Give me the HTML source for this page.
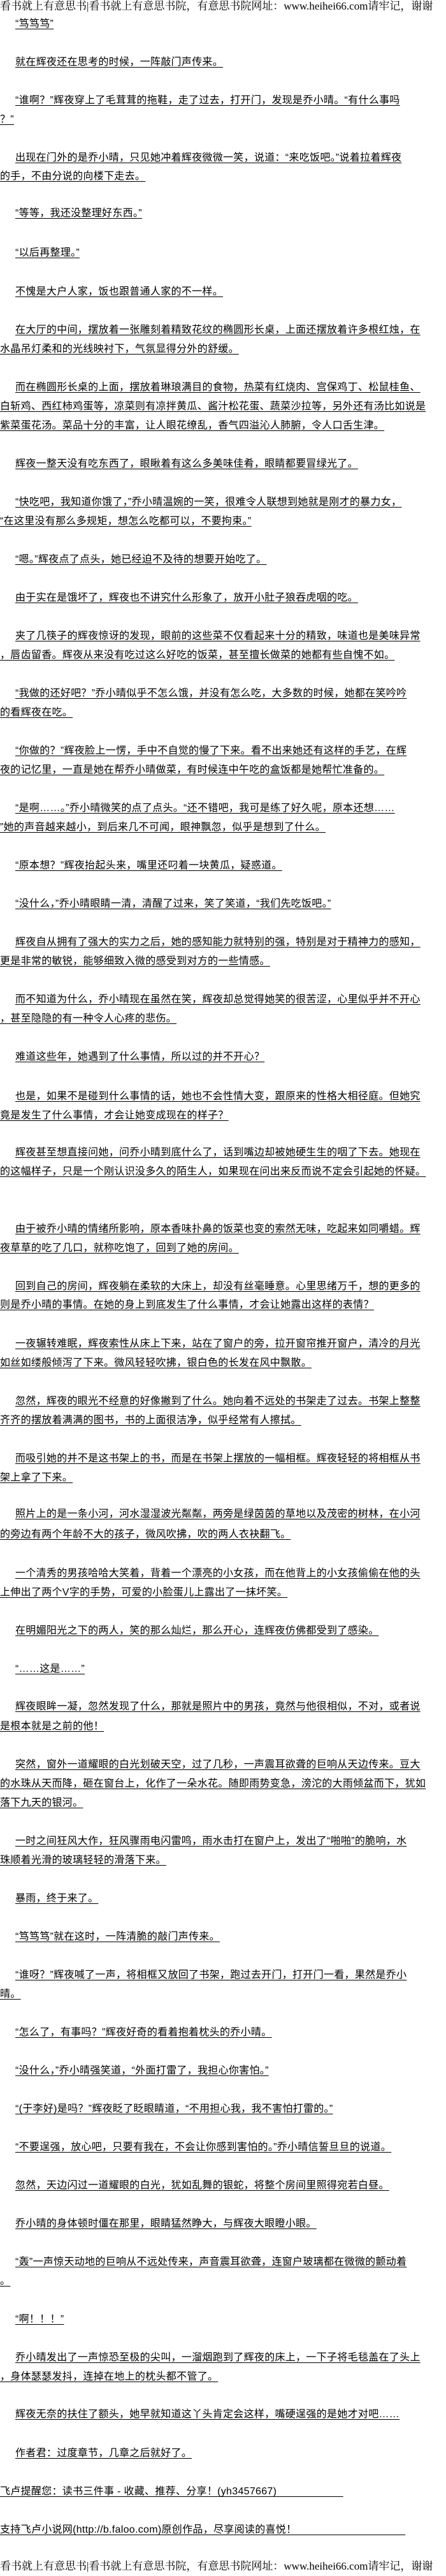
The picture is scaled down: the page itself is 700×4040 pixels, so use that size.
<!DOCTYPE html>
<html><head><meta charset="utf-8">
<style>
html,body{margin:0;padding:0;background:#fff;}
body{width:700px;height:4040px;position:relative;overflow:hidden;
font-family:"Liberation Sans","WenQuanYi Zen Hei","Noto Sans CJK SC",sans-serif;color:#000;}
.l{position:absolute;left:0;height:30px;line-height:30px;white-space:nowrap;font-size:16px;letter-spacing:0.3px;
text-decoration:underline;text-underline-offset:3px;text-decoration-thickness:1px;}
.i{left:24px;}
.h{position:absolute;left:0;height:24px;line-height:24px;white-space:nowrap;font-size:17px;font-family:"Liberation Serif","Noto Serif CJK SC","WenQuanYi Zen Hei",serif;}
</style></head><body>
<div class="h" style="top:-2px">看书就上有意思书|看书就上有意思书院，有意思书院网址：www.heihei66.com请牢记，谢谢</div>
<div class="l i" style="top:23px">“笃笃笃”</div>
<div class="l i" style="top:83px">就在辉夜还在思考的时候，一阵敲门声传来。</div>
<div class="l i" style="top:143px">“谁啊？”辉夜穿上了毛茸茸的拖鞋，走了过去，打开门，发现是乔小晴。“有什么事吗</div>
<div class="l" style="top:173px">？”</div>
<div class="l i" style="top:233px">出现在门外的是乔小晴，只见她冲着辉夜微微一笑，说道：“来吃饭吧。”说着拉着辉夜</div>
<div class="l" style="top:262px">的手，不由分说的向楼下走去。</div>
<div class="l i" style="top:320px">“等等，我还没整理好东西。”</div>
<div class="l i" style="top:382px">“以后再整理。”</div>
<div class="l i" style="top:443px">不愧是大户人家，饭也跟普通人家的不一样。</div>
<div class="l i" style="top:503px">在大厅的中间，摆放着一张雕刻着精致花纹的椭圆形长桌，上面还摆放着许多根红烛，在</div>
<div class="l" style="top:533px">水晶吊灯柔和的光线映衬下，气氛显得分外的舒缓。</div>
<div class="l i" style="top:593px">而在椭圆形长桌的上面，摆放着琳琅满目的食物，热菜有红烧肉、宫保鸡丁、松鼠桂鱼、</div>
<div class="l" style="top:623px">白斩鸡、西红柿鸡蛋等，凉菜则有凉拌黄瓜、酱汁松花蛋、蔬菜沙拉等，另外还有汤比如说是</div>
<div class="l" style="top:653px">紫菜蛋花汤。菜品十分的丰富，让人眼花缭乱，香气四溢沁人肺腑，令人口舌生津。</div>
<div class="l i" style="top:713px">辉夜一整天没有吃东西了，眼瞅着有这么多美味佳肴，眼睛都要冒绿光了。</div>
<div class="l i" style="top:773px">“快吃吧，我知道你饿了，”乔小晴温婉的一笑，很难令人联想到她就是刚才的暴力女，</div>
<div class="l" style="top:803px">“在这里没有那么多规矩，想怎么吃都可以，不要拘束。”</div>
<div class="l i" style="top:863px">“嗯。”辉夜点了点头，她已经迫不及待的想要开始吃了。</div>
<div class="l i" style="top:923px">由于实在是饿坏了，辉夜也不讲究什么形象了，放开小肚子狼吞虎咽的吃。</div>
<div class="l i" style="top:983px">夹了几筷子的辉夜惊讶的发现，眼前的这些菜不仅看起来十分的精致，味道也是美味异常</div>
<div class="l" style="top:1013px">，唇齿留香。辉夜从来没有吃过这么好吃的饭菜，甚至擅长做菜的她都有些自愧不如。</div>
<div class="l i" style="top:1073px">“我做的还好吧？”乔小晴似乎不怎么饿，并没有怎么吃，大多数的时候，她都在笑吟吟</div>
<div class="l" style="top:1103px">的看辉夜在吃。</div>
<div class="l i" style="top:1163px">“你做的？”辉夜脸上一愣，手中不自觉的慢了下来。看不出来她还有这样的手艺，在辉</div>
<div class="l" style="top:1193px">夜的记忆里，一直是她在帮乔小晴做菜，有时候连中午吃的盒饭都是她帮忙准备的。</div>
<div class="l i" style="top:1253px">“是啊……。”乔小晴微笑的点了点头。“还不错吧，我可是练了好久呢，原本还想……</div>
<div class="l" style="top:1283px">”她的声音越来越小，到后来几不可闻，眼神飘忽，似乎是想到了什么。</div>
<div class="l i" style="top:1343px">“原本想？”辉夜抬起头来，嘴里还叼着一块黄瓜，疑惑道。</div>
<div class="l i" style="top:1403px">“没什么，”乔小晴眼睛一清，清醒了过来，笑了笑道，“我们先吃饭吧。”</div>
<div class="l i" style="top:1463px">辉夜自从拥有了强大的实力之后，她的感知能力就特别的强，特别是对于精神力的感知，</div>
<div class="l" style="top:1493px">更是非常的敏锐，能够细致入微的感受到对方的一些情感。</div>
<div class="l i" style="top:1553px">而不知道为什么，乔小晴现在虽然在笑，辉夜却总觉得她笑的很苦涩，心里似乎并不开心</div>
<div class="l" style="top:1583px">，甚至隐隐的有一种令人心疼的悲伤。</div>
<div class="l i" style="top:1643px">难道这些年，她遇到了什么事情，所以过的并不开心？</div>
<div class="l i" style="top:1705px">也是，如果不是碰到什么事情的话，她也不会性情大变，跟原来的性格大相径庭。但她究</div>
<div class="l" style="top:1735px">竟是发生了什么事情，才会让她变成现在的样子？</div>
<div class="l i" style="top:1793px">辉夜甚至想直接问她，问乔小晴到底什么了，话到嘴边却被她硬生生的咽了下去。她现在</div>
<div class="l" style="top:1823px">的这幅样子，只是一个刚认识没多久的陌生人，如果现在问出来反而说不定会引起她的怀疑。</div>
<div class="l i" style="top:1913px">由于被乔小晴的情绪所影响，原本香味扑鼻的饭菜也变的索然无味，吃起来如同嚼蜡。辉</div>
<div class="l" style="top:1943px">夜草草的吃了几口，就称吃饱了，回到了她的房间。</div>
<div class="l i" style="top:2003px">回到自己的房间，辉夜躺在柔软的大床上，却没有丝毫睡意。心里思绪万千，想的更多的</div>
<div class="l" style="top:2032px">则是乔小晴的事情。在她的身上到底发生了什么事情，才会让她露出这样的表情？</div>
<div class="l i" style="top:2093px">一夜辗转难眠，辉夜索性从床上下来，站在了窗户的旁，拉开窗帘推开窗户，清冷的月光</div>
<div class="l" style="top:2123px">如丝如缕般倾泻了下来。微风轻轻吹拂，银白色的长发在风中飘散。</div>
<div class="l i" style="top:2183px">忽然，辉夜的眼光不经意的好像撇到了什么。她向着不远处的书架走了过去。书架上整整</div>
<div class="l" style="top:2213px">齐齐的摆放着满满的图书，书的上面很洁净，似乎经常有人擦拭。</div>
<div class="l i" style="top:2273px">而吸引她的并不是这书架上的书，而是在书架上摆放的一幅相框。辉夜轻轻的将相框从书</div>
<div class="l" style="top:2303px">架上拿了下来。</div>
<div class="l i" style="top:2360px">照片上的是一条小河，河水湿湿波光粼粼，两旁是绿茵茵的草地以及茂密的树林，在小河</div>
<div class="l" style="top:2392px">的旁边有两个年龄不大的孩子，微风吹拂，吹的两人衣袂翻飞。</div>
<div class="l i" style="top:2453px">一个清秀的男孩哈哈大笑着，背着一个漂亮的小女孩，而在他背上的小女孩偷偷在他的头</div>
<div class="l" style="top:2483px">上伸出了两个V字的手势，可爱的小脸蛋儿上露出了一抹坏笑。</div>
<div class="l i" style="top:2543px">在明媚阳光之下的两人，笑的那么灿烂，那么开心，连辉夜仿佛都受到了感染。</div>
<div class="l i" style="top:2603px">“……这是……”</div>
<div class="l i" style="top:2662px">辉夜眼眸一凝，忽然发现了什么，那就是照片中的男孩，竟然与他很相似，不对，或者说</div>
<div class="l" style="top:2693px">是根本就是之前的他！</div>
<div class="l i" style="top:2753px">突然，窗外一道耀眼的白光划破天空，过了几秒，一声震耳欲聋的巨响从天边传来。豆大</div>
<div class="l" style="top:2783px">的水珠从天而降，砸在窗台上，化作了一朵水花。随即雨势变急，滂沱的大雨倾盆而下，犹如</div>
<div class="l" style="top:2813px">落下九天的银河。</div>
<div class="l i" style="top:2873px">一时之间狂风大作，狂风骤雨电闪雷鸣，雨水击打在窗户上，发出了“啪啪”的脆响，水</div>
<div class="l" style="top:2903px">珠顺着光滑的玻璃轻轻的滑落下来。</div>
<div class="l i" style="top:2963px">暴雨，终于来了。</div>
<div class="l i" style="top:3023px">“笃笃笃”就在这时，一阵清脆的敲门声传来。</div>
<div class="l i" style="top:3083px">“谁呀？”辉夜喊了一声，将相框又放回了书架，跑过去开门，打开门一看，果然是乔小</div>
<div class="l" style="top:3113px">晴。</div>
<div class="l i" style="top:3173px">“怎么了，有事吗？”辉夜好奇的看着抱着枕头的乔小晴。</div>
<div class="l i" style="top:3233px">“没什么，”乔小晴强笑道，“外面打雷了，我担心你害怕。”</div>
<div class="l i" style="top:3293px">“(于李好)是吗？”辉夜眨了眨眼睛道，“不用担心我，我不害怕打雷的。”</div>
<div class="l i" style="top:3353px">“不要逞强，放心吧，只要有我在，不会让你感到害怕的。”乔小晴信誓旦旦的说道。</div>
<div class="l i" style="top:3413px">忽然，天边闪过一道耀眼的白光，犹如乱舞的银蛇，将整个房间里照得宛若白昼。</div>
<div class="l i" style="top:3473px">乔小晴的身体顿时僵在那里，眼睛猛然睁大，与辉夜大眼瞪小眼。</div>
<div class="l i" style="top:3533px">“轰”一声惊天动地的巨响从不远处传来，声音震耳欲聋，连窗户玻璃都在微微的颤动着</div>
<div class="l" style="top:3563px">。</div>
<div class="l i" style="top:3623px">“啊！！！”</div>
<div class="l i" style="top:3683px">乔小晴发出了一声惊恐至极的尖叫，一溜烟跑到了辉夜的床上，一下子将毛毯盖在了头上</div>
<div class="l" style="top:3713px">，身体瑟瑟发抖，连掉在地上的枕头都不管了。</div>
<div class="l i" style="top:3772px">辉夜无奈的扶住了额头，她早就知道这丫头肯定会这样，嘴硬逞强的是她才对吧……</div>
<div class="l i" style="top:3833px">作者君：过度章节，几章之后就好了。</div>
<div class="l" style="top:3893px">飞卢提醒您：读书三件事 - 收藏、推荐、分享！(yh3457667)&nbsp;&nbsp;&nbsp;&nbsp;&nbsp;&nbsp;&nbsp;&nbsp;&nbsp;&nbsp;&nbsp;&nbsp;&nbsp;&nbsp;&nbsp;&nbsp;&nbsp;&nbsp;&nbsp;&nbsp;&nbsp;&nbsp;</div>
<div class="l" style="top:3953px">支持飞卢小说网(http://b.faloo.com)原创作品，尽享阅读的喜悦！&nbsp;&nbsp;&nbsp;&nbsp;&nbsp;&nbsp;&nbsp;&nbsp;&nbsp;&nbsp;&nbsp;&nbsp;&nbsp;&nbsp;&nbsp;&nbsp;&nbsp;&nbsp;&nbsp;&nbsp;&nbsp;&nbsp;&nbsp;&nbsp;&nbsp;&nbsp;&nbsp;&nbsp;&nbsp;&nbsp;&nbsp;&nbsp;&nbsp;&nbsp;&nbsp;&nbsp;</div>
<div class="h" style="top:4013px">看书就上有意思书|看书就上有意思书院，有意思书院网址：www.heihei66.com请牢记，谢谢</div>
</body></html>
